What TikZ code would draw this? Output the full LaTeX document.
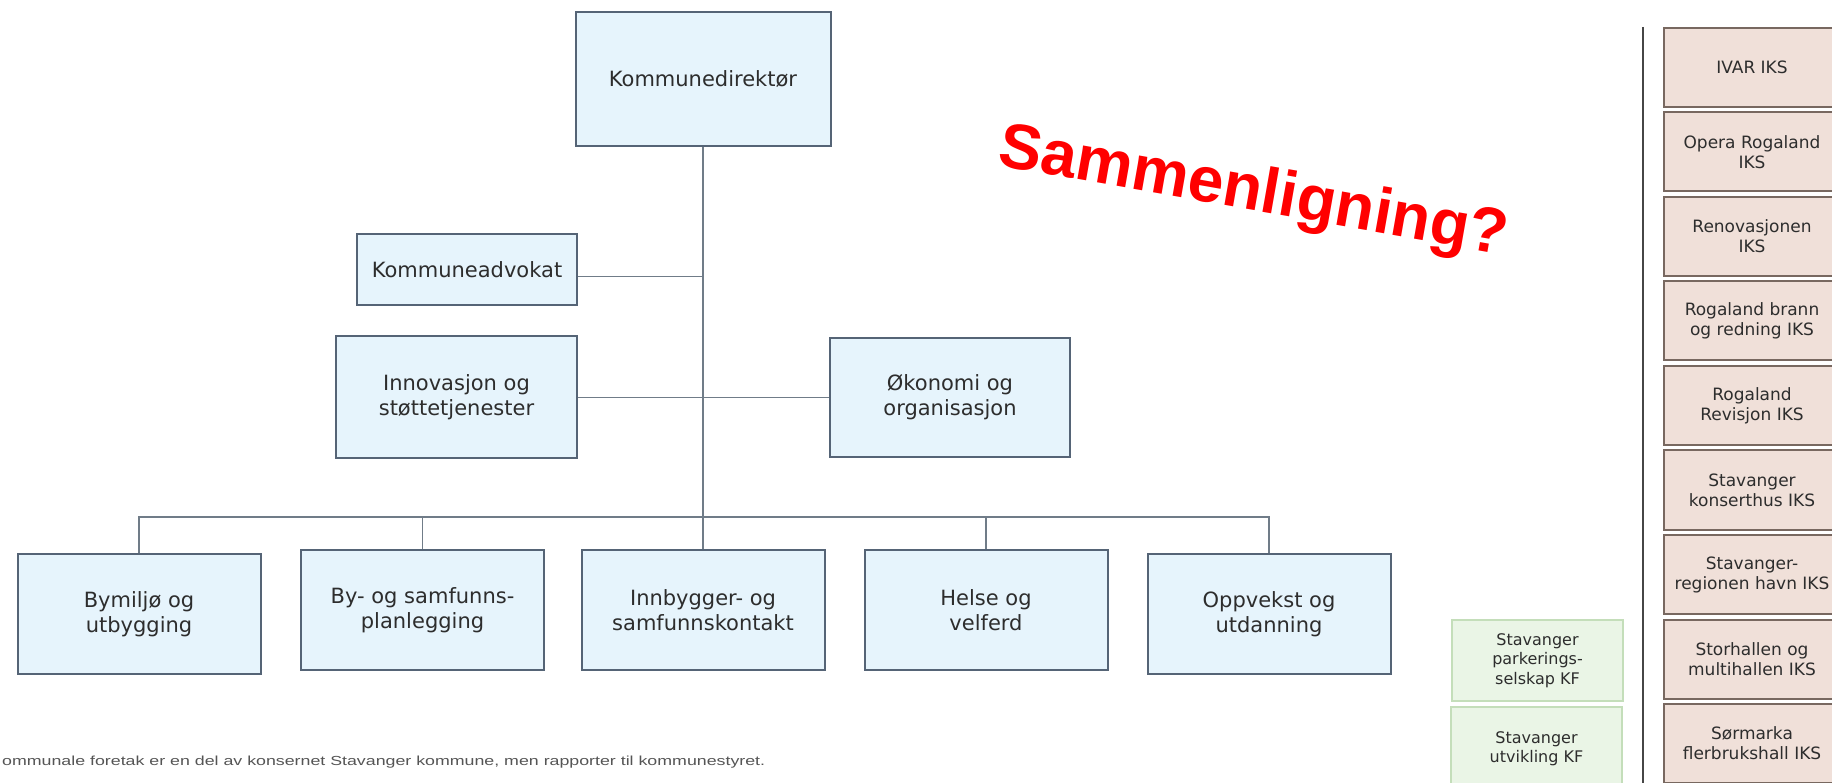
\documentclass[tikz,border=0pt]{standalone}
\usepackage{fontspec}
\usepackage{graphicx}
\setmainfont{DejaVu Sans}
\newfontfamily\redfont{Liberation Sans}
\newfontfamily\footfont{Liberation Sans}
\definecolor{bfill}{RGB}{230,244,252}
\definecolor{bborder}{RGB}{85,100,118}
\definecolor{lcol}{RGB}{112,124,136}
\definecolor{pfill}{RGB}{240,224,217}
\definecolor{pborder}{RGB}{120,104,96}
\definecolor{gfill}{RGB}{234,245,230}
\definecolor{gborder}{RGB}{196,222,186}
\definecolor{txt}{RGB}{45,45,45}
\definecolor{vcol}{RGB}{70,70,70}
\definecolor{foot}{RGB}{85,85,85}
\newcommand\bxfont{\fontsize{21}{25}\selectfont}
\newcommand\pkfont{\fontsize{17}{20}\selectfont}
\newcommand\grfont{\fontsize{16}{19.5}\selectfont}
\tikzset{
  bluebox/.style={draw=bborder, fill=bfill, line width=2pt, text=txt, font=\bxfont, align=center, inner sep=0pt},
  bottombox/.style={bluebox, minimum width=243pt, minimum height=120pt},
  pinkbox/.style={draw=pborder, fill=pfill, line width=2pt, text=txt, font=\pkfont, align=center, inner sep=0pt, minimum width=176pt, minimum height=79pt},
  greenbox/.style={draw=gborder, fill=gfill, line width=1.5pt, text=txt, font=\grfont, align=center, inner sep=0pt, minimum width=171pt},
  conn/.style={draw=lcol, line width=1.6pt}
}
\begin{document}
\begin{tikzpicture}[x=1pt,y=-1pt]
\useasboundingbox (0,0) rectangle (1832,783);
\clip (0,0) rectangle (1832,783);
\fill[white] (0,0) rectangle (1832,783);

% main hierarchy
\node[bluebox, minimum width=255pt, minimum height=134pt] (dir) at (703,79) {Kommunedirektør};
\node[bluebox, minimum width=220pt, minimum height=71pt] (adv) at (467,269.5) {Kommuneadvokat};
\node[bluebox, minimum width=241pt, minimum height=122pt] (inn) at (456.5,397.5) {Innovasjon og\\støttetjenester};
\node[bluebox, minimum width=240pt, minimum height=119pt] (oko) at (950,397.5) {Økonomi og\\organisasjon};

\node[bottombox] (b1) at (139,614) {Bymiljø og\\utbygging};
\node[bottombox] (b2) at (422.5,610) {By- og samfunns-\\planlegging};
\node[bottombox] (b3) at (703,610) {Innbygger- og\\samfunnskontakt};
\node[bottombox] (b4) at (986,610) {Helse og\\velferd};
\node[bottombox] (b5) at (1269,614) {Oppvekst og\\utdanning};

\coordinate (advj) at ([yshift=-7pt]adv.east);
\coordinate (bus) at (703,517);
\draw[conn] (dir.south) -- (b3.north);
\draw[conn] (advj) -- (advj -| dir.south);
\draw[conn] (inn.east) -- (oko.west);
\draw[conn] (b1.north) |- (bus) -| (b5.north);
\draw[conn] (b2.north) -- (b2.north |- bus);
\draw[conn] (b4.north) -- (b4.north |- bus);

% comparison text
\node[rotate=-10, text=red, font=\redfont\bfseries\fontsize{64}{70}\selectfont, inner sep=0pt] (cmp) at (1253,194) {Sammenligning?};

% right column
\coordinate (vt) at (1643,27);
\coordinate (vb) at (1643,790);
\draw[line width=2pt, draw=vcol] (vt) -- (vb);

\node[pinkbox] (p1) at (1752,67.5) {IVAR IKS};
\node[pinkbox] (p2) at (1752,152) {Opera Rogaland\\IKS};
\node[pinkbox] (p3) at (1752,236.5) {Renovasjonen\\IKS};
\node[pinkbox] (p4) at (1752,321) {Rogaland brann\\og redning IKS};
\node[pinkbox] (p5) at (1752,405.5) {Rogaland\\Revisjon IKS};
\node[pinkbox] (p6) at (1752,490) {Stavanger\\konserthus IKS};
\node[pinkbox] (p7) at (1752,574.5) {Stavanger-\\regionen havn IKS};
\node[pinkbox] (p8) at (1752,659) {Storhallen og\\multihallen IKS};
\node[pinkbox] (p9) at (1752,743.5) {Sørmarka\\flerbrukshall IKS};

\node[greenbox, minimum height=81pt] (g1) at (1537.5,660.5) {Stavanger\\parkerings-\\selskap KF};
\node[greenbox, minimum height=83pt] (g2) at (1536.5,748.5) {Stavanger\\utvikling KF};

% footer
\node[anchor=base west, inner sep=0pt, text=foot] (note) at (2,765) {\resizebox{763pt}{9.5pt}{\footfont\fontsize{13}{15}\selectfont ommunale foretak er en del av konsernet Stavanger kommune, men rapporter til kommunestyret.}};
\end{tikzpicture}
\end{document}
